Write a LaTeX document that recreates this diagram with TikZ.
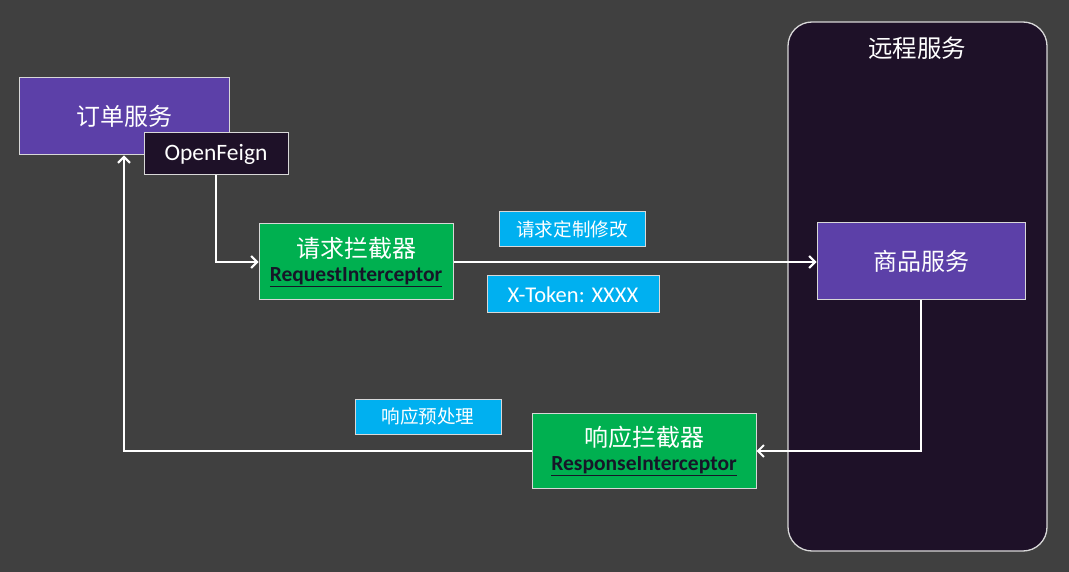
\documentclass[tikz,border=0pt]{standalone}
\usepackage{fontspec}
\setmainfont{Carlito}
\newfontfamily\cjk{Noto Sans CJK SC}
\usetikzlibrary{arrows.meta}
\definecolor{bg}{HTML}{404040}
\definecolor{purp}{HTML}{5C40A8}
\definecolor{darkp}{HTML}{1E1128}
\definecolor{grn}{HTML}{00B050}
\definecolor{lblue}{HTML}{00B0F0}
\definecolor{bordc}{HTML}{D8D8D8}
\definecolor{inktext}{HTML}{161628}
\tikzset{
  box/.style={draw=bordc, line width=1pt, inner sep=0pt, text=white, align=center},
  svcbox/.style={box, fill=purp, font=\cjk\fontsize{24}{28}\selectfont},
  featbox/.style={box, fill=darkp, font=\fontsize{23.5}{26}\selectfont},
  icpbox/.style={box, fill=grn},
  tagbox/.style={box, fill=lblue, font=\cjk\fontsize{18.6}{22}\selectfont},
  flow/.style={draw=white, line width=2.2pt, -{Straight Barb[length=6pt,width=12pt,line width=2pt]}}
}
\newcommand{\icptext}[2]{{\cjk\fontsize{24}{26}\selectfont #1}\\[7pt]{\color{inktext}\bfseries\fontsize{21.5}{24}\selectfont\underline{#2}}}
\begin{document}
\begin{tikzpicture}[x=1pt,y=-1pt]
\fill[bg] (0,0) rectangle (1069,572);
\useasboundingbox (0,0) rectangle (1069,572);
% remote container
\draw[draw=bordc, line width=1.3pt, fill=darkp, rounded corners=24pt] (788,22) rectangle (1047,551);
\node[text=white, font=\cjk\fontsize{24.5}{28}\selectfont] (title) at (917,48) {远程服务};
% nodes
\node[svcbox, minimum width=210pt, minimum height=77pt] (order) at (124,116.5) {订单服务};
\node[featbox, minimum width=144pt, minimum height=42pt] (feign) at (216,154) {OpenFeign};
\node[icpbox, minimum width=194pt, minimum height=76pt] (req) at (356,262) {\icptext{请求拦截器}{RequestInterceptor}};
\node[svcbox, minimum width=208pt, minimum height=77pt] (svc) at (921,261.5) {商品服务};
\node[icpbox, minimum width=224pt, minimum height=75pt] (resp) at (644,451) {\icptext{响应拦截器}{ResponseInterceptor}};
\node[tagbox, minimum width=146pt, minimum height=35pt] (tag1) at (572,229.5) {请求定制修改};
\node[tagbox, font=\fontsize{22.5}{25}\selectfont, minimum width=172pt, minimum height=37pt] (tag2) at (573,294.5) {X-Token: XXXX};
\node[tagbox, minimum width=146pt, minimum height=35pt] (tag3) at (428,416.5) {响应预处理};
% connectors
\draw[flow] (feign.south) |- (req.west);
\draw[flow] (req.east) -- (svc.west |- req.east);
\draw[flow] (svc.south) |- (resp.east);
\draw[flow] (resp.west) -| (order.south);
\end{tikzpicture}
\end{document}
